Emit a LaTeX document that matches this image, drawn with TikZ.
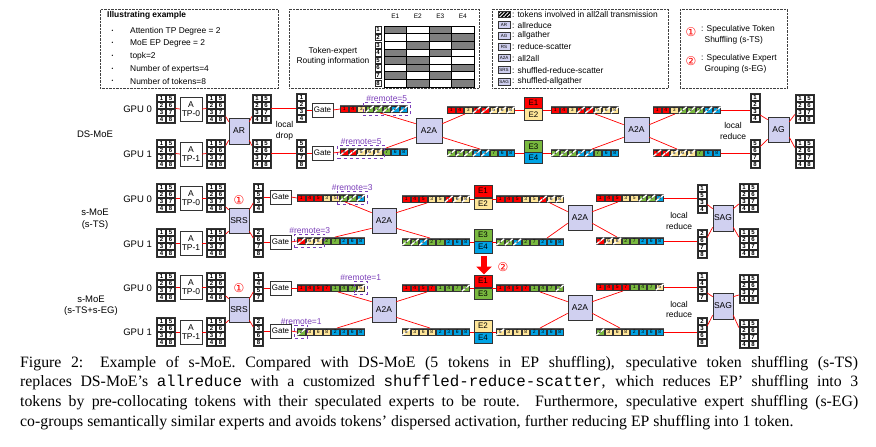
\documentclass[tikz,border=0pt]{standalone}
\usepackage{fontspec}
\setmainfont{Liberation Serif}
\setsansfont{Liberation Sans}
\setmonofont{Liberation Mono}
\newfontfamily\circfont{DejaVu Sans}
\renewcommand{\familydefault}{\sfdefault}
\usetikzlibrary{calc,fit,arrows.meta,patterns.meta}

\definecolor{colr}{HTML}{FF0000}
\definecolor{coly}{HTML}{FFE699}
\definecolor{colg}{HTML}{79B93F}
\definecolor{colb}{HTML}{00A3E4}
\definecolor{lav}{HTML}{D0D0F0}
\definecolor{purp}{HTML}{7A3DB8}
\definecolor{rc0}{HTML}{FFFFFF}
\definecolor{rc1}{HTML}{7F7F7F}

% token grid: name, centre x, centre y
\newcommand{\tokgrid}[3]{%
  \node[tgrid] (#1) at (#2,#3) {};
  \foreach \r in {1,...,4}{%
    \pgfmathtruncatemacro{\s}{\r+4}%
    \node[tcell] (#1-a\r) at (#2-4.5,#3-17.5+7*\r) {\r};
    \node[tcell] (#1-b\r) at (#2+4.5,#3-17.5+7*\r) {\s};
  }}
% token column: name, centre x, centre y, four numbers
\newcommand{\tokcol}[4]{%
  \node[tcolf] (#1) at (#2,#3) {};
  \foreach \v [count=\r] in {#4}
    \node[tcell] (#1-\r) at (#2,#3-17.5+7*\r) {\v};}
% token strip: name, left x, centre y, list number/colour/remote
\newcommand{\tokstrip}[4]{%
  \node[tstrip, anchor=west] (#1) at (#2,#3) {};
  \foreach \v/\c/\h [count=\i] in {#4}{%
    \node[scell, fill=col\c] (#1-\i) at (#2+8.5*\i-4.25,#3) {};
    \ifnum\h=1 \draw[white, line width=1.3pt] (#1-\i.south west) -- (#1-\i.north east);\fi
    \node[snum] (#1-n\i) at (#1-\i) {\v};
  }}

\begin{document}
\begin{tikzpicture}[x=1pt, y=-1pt,
    tgrid/.style={fill=black!60, draw=black!80, minimum width=19pt, minimum height=29pt, inner sep=0},
    tcolf/.style={fill=black!60, draw=black!80, minimum width=10pt, minimum height=29pt, inner sep=0},
    tcell/.style={fill=white, draw=black!85, line width=.4pt, minimum width=8pt, minimum height=6pt,
                  inner sep=0, font=\fontsize{6}{6}\selectfont\bfseries},
    tstrip/.style={fill=black!65, minimum width=68pt, minimum height=7.5pt, inner sep=0},
    scell/.style={draw=black!80, line width=.3pt, minimum width=7.5pt, minimum height=6pt, inner sep=0},
    snum/.style={inner sep=0, font=\fontsize{5}{5}\selectfont},
    lbl/.style={inner sep=0, align=center, font=\fontsize{9.5}{11.5}\selectfont},
    small/.style={inner sep=0, align=center, font=\fontsize{8.5}{10.5}\selectfont},
    tpbox/.style={draw=black!80, fill=white, minimum width=22pt, minimum height=24pt, inner sep=0,
                  align=center, font=\fontsize{8.5}{9.5}\selectfont},
    gatebox/.style={draw=black!80, fill=white, minimum width=21pt, minimum height=14pt, inner sep=0,
                    font=\fontsize{8}{9}\selectfont},
    collbox/.style={draw=black!80, fill=lav, line width=.7pt, inner sep=0, font=\fontsize{8.5}{9}\selectfont},
    ebox/.style={draw=black!80, minimum width=18pt, minimum height=11.5pt, inner sep=0,
                 font=\fontsize{8}{9}\selectfont},
    link/.style={draw=colr, line width=.7pt},
    remote/.style={draw=purp, dashed, line width=.8pt, inner xsep=2.5pt, inner ysep=3.5pt},
    remtxt/.style={anchor=south, text=purp, inner sep=.5pt, font=\fontsize{8.5}{9}\selectfont},
    legbox/.style={draw=black!75, densely dotted, anchor=north west, inner sep=0},
    legtxt/.style={anchor=west, inner sep=0, font=\fontsize{8.4}{9}\selectfont},
    icon/.style={draw=black!80, fill=lav, minimum width=12pt, minimum height=7pt, inner sep=0,
                 font=\fontsize{4.5}{5}\selectfont},
    circ/.style={text=colr, inner sep=0, font=\fontsize{12}{12}\circfont},
    rcell/.style={draw=black, line width=.6pt, minimum width=22.5pt, minimum height=7.6pt, inner sep=0}
  ]
  \useasboundingbox (0,0) rectangle (876,447);

  % legend boxes
  \node[legbox, minimum width=178pt, minimum height=79pt] (leg1) at (100,9) {};
  \node[legtxt, font=\fontsize{8.4}{9}\selectfont\bfseries] (lt0) at (107,15.5) {Illustrating example};
  \foreach \t [count=\i] in {Attention TP Degree = 2, MoE EP Degree = 2, topk=2, Number of experts=4, Number of tokens=8}{
    \node[legtxt, font=\fontsize{5}{5}\selectfont] (lb\i) at (111.5,18.5+12.6*\i) {\textbullet};
    \node[legtxt] (lt\i) at (130,18.5+12.6*\i) {\t};
  }

  \node[legbox, minimum width=190pt, minimum height=79pt] (leg2) at (289,9) {};
  \foreach \e [count=\c] in {E1,E2,E3,E4}
    \node[inner sep=0, font=\fontsize{6.5}{7}\selectfont] (eh\c) at (395.25+22.5*\c-22.5,16) {\e};
  \foreach \row [count=\r] in {{1,0,1,0},{0,0,1,1},{0,1,0,1},{1,0,1,0},{1,1,0,0},{0,1,0,1},{1,0,1,0},{0,1,0,1}}{
    \node[tcell, minimum width=6pt, minimum height=6.5pt] (rn\r) at (378,29.8+7.6*\r-7.6) {\r};
    \foreach \v [count=\c] in \row
      \node[rcell, fill=rc\v] (rt\r\c) at (395.25+22.5*\c-22.5,29.8+7.6*\r-7.6) {};
  }
  \node[small, font=\fontsize{8.4}{10}\selectfont] (rinfo) at (333,56.5) {Token-expert\\Routing information};

  \node[legbox, minimum width=176pt, minimum height=79pt] (leg3) at (492,9) {};
  \node[draw=black!80, minimum width=12pt, minimum height=6.5pt, inner sep=0, preaction={fill=black},
        pattern={Lines[angle=45,distance=2.6pt,line width=.9pt]}, pattern color=white] (ic1) at (504,14) {};
  \node[legtxt] (it1) at (512,14) {: tokens involved in all2all transmission};
  \foreach \a/\t/\y [count=\i from 2] in {AR/allreduce/25, AG/allgather/35.5, RS/reduce-scatter/46.5,
      A2A/all2all/58, SRS/shuffled-reduce-scatter/70, SAG/shuffled-allgather/81.5}{
    \node[icon] (ic\i) at (504,\y) {\a};
    \node[legtxt] (it\i) at (512,\y) {: \t};
  }

  \node[legbox, minimum width=107pt, minimum height=79pt] (leg4) at (680,9) {};
  \node[circ] (k1) at (691,32) {①};
  \node[legtxt, align=left, anchor=north west, font=\fontsize{8.4}{11}\selectfont] (kt1) at (701,25)
    {: Speculative Token\\\hspace*{3.5pt}Shuffling (s-TS)};
  \node[circ] (k2) at (691,61) {②};
  \node[legtxt, align=left, anchor=north west, font=\fontsize{8.4}{11}\selectfont] (kt2) at (701,54)
    {: Speculative Expert\\\hspace*{3.5pt}Grouping (s-EG)};

  % DS-MoE
  \node[lbl] (dsl) at (95,134) {DS-MoE};
  \node[lbl, anchor=east] (gpu10) at (152,109) {GPU 0};
  \node[lbl, anchor=east] (gpu11) at (152,154) {GPU 1};
  \tokgrid{ga0}{166}{108.5}
  \tokgrid{ga1}{166}{153.5}
  \node[tpbox] (tpa0) at (191,109) {A\\TP-0};
  \node[tpbox] (tpa1) at (191,154) {A\\TP-1};
  \tokgrid{gb0}{216}{108.5}
  \tokgrid{gb1}{216}{153.5}
  \node[collbox, minimum width=20pt, minimum height=26pt] (ar) at (239,131) {AR};
  \tokgrid{gc0}{261.5}{108.5}
  \tokgrid{gc1}{261.5}{153.5}
  \node[small] (drop) at (284.5,131) {local\\drop};
  \tokcol{ca0}{301.5}{108}{1,2,3,4}
  \tokcol{ca1}{301.5}{153.5}{5,6,7,8}
  \node[gatebox] (gt10) at (322.5,110) {Gate};
  \node[gatebox] (gt11) at (322.5,153) {Gate};
  \tokstrip{sg10}{340}{109}{1/r/0,4/r/0,3/y/0,1/g/1,2/g/1,4/g/1,2/b/1,3/b/1}
  \tokstrip{sg11}{340}{152}{5/r/1,7/r/1,5/y/1,6/y/1,8/y/1,7/g/0,6/b/0,8/b/0}
  \node[remote, fit=(sg10-4)(sg10-8)] (rm10) {};
  \node[remtxt] (rt10) at (rm10.north) {\#remote=5};
  \node[remote, fit=(sg11-1)(sg11-5)] (rm11) {};
  \node[remtxt] (rt11) at (rm11.north) {\#remote=5};
  \node[collbox, minimum width=26pt, minimum height=25pt] (a2a10) at (429,130.5) {A2A};
  \tokstrip{sa10}{447}{110}{1/r/0,4/r/0,3/y/0,5/r/1,7/r/1,5/y/1,6/y/1,8/y/1}
  \tokstrip{sa11}{447}{153}{1/g/1,2/g/1,4/g/1,2/b/1,3/b/1,7/g/0,6/b/0,8/b/0}
  \node[ebox, fill=colr] (e11) at (533.5,102.75) {E1};
  \node[ebox, fill=coly] (e12) at (533.5,114.25) {E2};
  \node[ebox, fill=colg] (e13) at (533.5,146.25) {E3};
  \node[ebox, fill=colb] (e14) at (533.5,157.75) {E4};
  \tokstrip{se10}{551}{110}{1/r/0,4/r/0,3/y/0,5/r/1,7/r/1,5/y/1,6/y/1,8/y/1}
  \tokstrip{se11}{551}{153}{1/g/1,2/g/1,4/g/1,2/b/1,3/b/1,7/g/0,6/b/0,8/b/0}
  \node[collbox, minimum width=25pt, minimum height=25pt] (a2a11) at (636.5,129.5) {A2A};
  \tokstrip{sr10}{653}{110}{1/r/0,4/r/0,3/y/0,1/g/1,2/g/1,4/g/1,2/b/1,3/b/1}
  \tokstrip{sr11}{653}{153}{5/r/1,7/r/1,5/y/1,6/y/1,8/y/1,7/g/0,6/b/0,8/b/0}
  \node[small] (red1) at (733,131) {local\\reduce};
  \tokcol{cb0}{755}{108}{1,2,3,4}
  \tokcol{cb1}{755}{153.5}{5,6,7,8}
  \node[collbox, minimum width=21pt, minimum height=25pt] (ag) at (778.5,129.5) {AG};
  \tokgrid{gd0}{804.5}{108.5}
  \tokgrid{gd1}{804.5}{153.5}

  \draw[link] (ga0.east) -- (tpa0.west);
  \draw[link] (ga1.east) -- (tpa1.west);
  \draw[link] (tpa0.east) -- (gb0.west);
  \draw[link] (tpa1.east) -- (gb1.west);
  \draw[link] ($(gb0.east)+(0,8)$) -- ($(ar.north west)+(0,4)$);
  \draw[link] ($(gb1.east)+(0,-8)$) -- ($(ar.south west)+(0,-4)$);
  \draw[link] ($(ar.north east)+(0,4)$) -- ($(gc0.west)+(0,8)$);
  \draw[link] ($(ar.south east)+(0,-4)$) -- ($(gc1.west)+(0,-8)$);
  \draw[link] (gc0.east) -- (gc0.east -| ca0.west);
  \draw[link] (gc1.east) -- (gc1.east -| ca1.west);
  \draw[link] (gt10.west -| ca0.east) -- (gt10.west);
  \draw[link] (gt11.west -| ca1.east) -- (gt11.west);
  \draw[link] (gt10.east) -- (sg10.west);
  \draw[link] (gt11.east) -- (sg11.west);
  \draw[link] ($(sg10.south west)+(40,0)$) -- ($(a2a10.north west)+(0,6)$);
  \draw[link] ($(sg11.north west)+(46,0)$) -- ($(a2a10.south west)+(0,-6)$);
  \draw[link] ($(a2a10.north east)+(0,6)$) -- ($(sa10.south west)+(18,0)$);
  \draw[link] ($(a2a10.south east)+(0,-6)$) -- ($(sa11.north west)+(33,0)$);
  \draw[link] (sa10.east) -- (sa10.east -| e12.west);
  \draw[link] (sa11.east) -- (sa11.east -| e13.west);
  \draw[link] (se10.west -| e12.east) -- (se10.west);
  \draw[link] (se11.west -| e13.east) -- (se11.west);
  \draw[link] ($(se10.south west)+(44,0)$) -- ($(a2a11.north west)+(0,8)$);
  \draw[link] ($(se11.north west)+(41,0)$) -- ($(a2a11.south west)+(0,-5)$);
  \draw[link] ($(a2a11.north east)+(0,8)$) -- ($(sr10.south west)+(22,0)$);
  \draw[link] ($(a2a11.south east)+(0,-5)$) -- ($(sr11.north west)+(24,0)$);
  \draw[link] (sr10.east) -- (sr10.east -| cb0.west);
  \draw[link] (sr11.east) -- (sr11.east -| cb1.west);
  \draw[link] ($(cb0.east)+(0,7)$) -- ($(ag.north west)+(0,3)$);
  \draw[link] ($(cb1.east)+(0,-7)$) -- ($(ag.south west)+(0,-3)$);
  \draw[link] ($(ag.north east)+(0,5)$) -- ($(gd0.west)+(0,6)$);
  \draw[link] ($(ag.south east)+(0,-5)$) -- ($(gd1.west)+(0,-6)$);

  % s-MoE (s-TS)
  \node[lbl] (tsl) at (95,219) {s-MoE\\(s-TS)};
  \node[lbl, anchor=east] (gpu20) at (152,199) {GPU 0};
  \node[lbl, anchor=east] (gpu21) at (152,244) {GPU 1};
  \tokgrid{ha0}{166}{198}
  \tokgrid{ha1}{166}{243}
  \node[tpbox] (tpb0) at (191,198) {A\\TP-0};
  \node[tpbox] (tpb1) at (191,243) {A\\TP-1};
  \tokgrid{hb0}{216}{198}
  \tokgrid{hb1}{216}{243}
  \node[collbox, minimum width=20pt, minimum height=25pt] (srs1) at (239,220.5) {SRS};
  \node[circ] (c21) at (239,200.5) {①};
  \tokcol{hc0}{258.5}{198}{1,5,3,4}
  \tokcol{hc1}{258.5}{243}{2,6,7,8}
  \node[gatebox] (gt20) at (280.5,197) {Gate};
  \node[gatebox] (gt21) at (280.5,242) {Gate};
  \tokstrip{sg20}{297}{198}{1/r/0,4/r/0,5/r/0,3/y/0,5/y/0,1/g/1,4/g/1,3/b/1}
  \tokstrip{sg21}{297}{241}{7/r/1,6/y/1,8/y/1,2/g/0,7/g/0,2/b/0,6/b/0,8/b/0}
  \node[remote, fit=(sg20-6)(sg20-8)] (rm20) {};
  \node[remtxt] (rt20) at (rm20.north) {\#remote=3};
  \node[remote, fit=(sg21-1)(sg21-3)] (rm21) {};
  \node[remtxt] (rt21) at (rm21.north) {\#remote=3};
  \node[collbox, minimum width=24pt, minimum height=25pt] (a2a20) at (384,220.5) {A2A};
  \tokstrip{sa20}{402}{199}{1/r/0,4/r/0,5/r/0,3/y/0,5/y/0,7/r/1,6/y/1,8/y/1}
  \tokstrip{sa21}{402}{242}{1/g/1,4/g/1,3/b/1,2/g/0,7/g/0,2/b/0,6/b/0,8/b/0}
  \node[ebox, fill=colr] (e21) at (483,191) {E1};
  \node[ebox, fill=coly] (e22) at (483,203.5) {E2};
  \node[ebox, fill=colg] (e23) at (483,235) {E3};
  \node[ebox, fill=colb] (e24) at (483,247) {E4};
  \tokstrip{se20}{496}{199}{1/r/0,4/r/0,5/r/0,3/y/0,5/y/0,7/r/1,6/y/1,8/y/1}
  \tokstrip{se21}{496}{242}{1/g/1,4/g/1,3/b/1,2/g/0,7/g/0,2/b/0,6/b/0,8/b/0}
  \node[collbox, minimum width=24pt, minimum height=25pt] (a2a21) at (580,217.5) {A2A};
  \tokstrip{sr20}{596}{198}{1/r/0,4/r/0,5/r/0,3/y/0,5/y/0,1/g/1,4/g/1,3/b/1}
  \tokstrip{sr21}{596}{241}{7/r/1,6/y/1,8/y/1,2/g/0,7/g/0,2/b/0,6/b/0,8/b/0}
  \node[small] (red2) at (679,221) {local\\reduce};
  \tokcol{hd0}{702}{198.5}{1,5,3,4}
  \tokcol{hd1}{702}{243.5}{2,6,7,8}
  \node[collbox, minimum width=20pt, minimum height=26pt] (sag1) at (723,218) {SAG};
  \tokgrid{he0}{748.5}{198}
  \tokgrid{he1}{748.5}{243}

  \draw[link] (ha0.east) -- (tpb0.west);
  \draw[link] (ha1.east) -- (tpb1.west);
  \draw[link] (tpb0.east) -- (hb0.west);
  \draw[link] (tpb1.east) -- (hb1.west);
  \draw[link] ($(hb0.east)+(0,9)$) -- ($(srs1.north west)+(0,2)$);
  \draw[link] ($(hb1.east)+(0,-9)$) -- ($(srs1.south west)+(0,-2)$);
  \draw[link] ($(srs1.north east)+(0,2)$) -- ($(hc0.west)+(0,5)$);
  \draw[link] ($(srs1.south east)+(0,-2)$) -- ($(hc1.west)+(0,-5)$);
  \draw[link] (gt20.west -| hc0.east) -- (gt20.west);
  \draw[link] (gt21.west -| hc1.east) -- (gt21.west);
  \draw[link] (gt20.east) -- (sg20.west);
  \draw[link] (gt21.east) -- (sg21.west);
  \draw[link] ($(sg20.south west)+(48,0)$) -- ($(a2a20.north west)+(0,5)$);
  \draw[link] ($(sg21.north west)+(38,0)$) -- ($(a2a20.south west)+(0,-5)$);
  \draw[link] ($(a2a20.north east)+(0,5)$) -- ($(sa20.south west)+(25,0)$);
  \draw[link] ($(a2a20.south east)+(0,-5)$) -- ($(sa21.north west)+(28,0)$);
  \draw[link] (sa20.east) -- (sa20.east -| e22.west);
  \draw[link] (sa21.east) -- (sa21.east -| e23.west);
  \draw[link] (se20.west -| e22.east) -- (se20.west);
  \draw[link] (se21.west -| e23.east) -- (se21.west);
  \draw[link] ($(se20.south west)+(54,0)$) -- ($(a2a21.north west)+(0,7)$);
  \draw[link] ($(se21.north west)+(51,0)$) -- ($(a2a21.south west)+(0,-7)$);
  \draw[link] ($(a2a21.north east)+(0,7)$) -- ($(sr20.south west)+(22,0)$);
  \draw[link] ($(a2a21.south east)+(0,-7)$) -- ($(sr21.north west)+(21,0)$);
  \draw[link] (sr20.east) -- (sr20.east -| hd0.west);
  \draw[link] (sr21.east) -- (sr21.east -| hd1.west);
  \draw[link] ($(hd0.east)+(0,6)$) -- ($(sag1.north west)+(0,4)$);
  \draw[link] ($(hd1.east)+(0,-6)$) -- ($(sag1.south west)+(0,-4)$);
  \draw[link] ($(sag1.north east)+(0,4)$) -- ($(he0.west)+(0,6)$);
  \draw[link] ($(sag1.south east)+(0,-4)$) -- ($(he1.west)+(0,-6)$);

  % s-MoE (s-TS+s-EG)
  \node[lbl] (egl) at (91,305.5) {s-MoE\\(s-TS+s-EG)};
  \node[lbl, anchor=east] (gpu30) at (152,288) {GPU 0};
  \node[lbl, anchor=east] (gpu31) at (152,332) {GPU 1};
  \tokgrid{ka0}{166}{287}
  \tokgrid{ka1}{166}{332}
  \node[tpbox] (tpc0) at (191,287) {A\\TP-0};
  \node[tpbox] (tpc1) at (191,332) {A\\TP-1};
  \tokgrid{kb0}{216}{287}
  \tokgrid{kb1}{216}{332}
  \node[collbox, minimum width=20pt, minimum height=25pt] (srs2) at (239,309.5) {SRS};
  \node[circ] (c31) at (239,288.5) {①};
  \tokcol{kc0}{258.5}{287}{1,4,5,7}
  \tokcol{kc1}{258.5}{332}{2,3,6,8}
  \node[gatebox] (gt30) at (280.5,288) {Gate};
  \node[gatebox] (gt31) at (280.5,331) {Gate};
  \tokstrip{sg30}{297}{288}{1/r/0,4/r/0,5/r/0,7/r/0,1/g/0,4/g/0,7/g/0,5/y/1}
  \tokstrip{sg31}{297}{332}{2/g/1,3/y/0,6/y/0,8/y/0,2/b/0,3/b/0,6/b/0,8/b/0}
  \node[remote, fit=(sg30-8)] (rm30) {};
  \node[remtxt] (rt30) at (rm30.north) {\#remote=1};
  \node[remote, fit=(sg31-1)] (rm31) {};
  \node[remtxt] (rt31) at (rm31.north) {\#remote=1};
  \node[collbox, minimum width=24pt, minimum height=25pt] (a2a30) at (384,309.5) {A2A};
  \tokstrip{sa30}{402}{288}{1/r/0,4/r/0,5/r/0,7/r/0,1/g/0,4/g/0,7/g/0,2/g/1}
  \tokstrip{sa31}{402}{332}{5/y/1,3/y/0,6/y/0,8/y/0,2/b/0,3/b/0,6/b/0,8/b/0}
  \coordinate (arrs) at (484,256);
  \coordinate (arre) at (484,274.5);
  \draw[colr, line width=6pt, -{Triangle[width=15pt,length=8pt]}] (arrs) -- (arre);
  \node[circ] (c32) at (503,267) {②};
  \node[ebox, fill=colr] (e31) at (483,281) {E1};
  \node[ebox, fill=colg] (e33) at (483,293.5) {E3};
  \node[ebox, fill=coly] (e32) at (483,326) {E2};
  \node[ebox, fill=colb] (e34) at (483,337.5) {E4};
  \tokstrip{se30}{496}{288}{1/r/0,4/r/0,5/r/0,7/r/0,1/g/0,4/g/0,7/g/0,2/g/1}
  \tokstrip{se31}{496}{332}{5/y/1,3/y/0,6/y/0,8/y/0,2/b/0,3/b/0,6/b/0,8/b/0}
  \node[collbox, minimum width=24pt, minimum height=25pt] (a2a31) at (580,307.5) {A2A};
  \tokstrip{sr30}{596}{287}{1/r/0,4/r/0,5/r/0,7/r/0,1/g/0,4/g/0,7/g/0,5/y/1}
  \tokstrip{sr31}{596}{332}{2/g/1,3/y/0,6/y/0,8/y/0,2/b/0,3/b/0,6/b/0,8/b/0}
  \node[small] (red3) at (679,309.5) {local\\reduce};
  \tokcol{kd0}{702}{287}{1,4,5,7}
  \tokcol{kd1}{702}{332}{2,3,6,8}
  \node[collbox, minimum width=20pt, minimum height=26pt] (sag2) at (723,306) {SAG};
  \tokgrid{ke0}{748.5}{289}
  \tokgrid{ke1}{748.5}{333.5}

  \draw[link] (ka0.east) -- (tpc0.west);
  \draw[link] (ka1.east) -- (tpc1.west);
  \draw[link] (tpc0.east) -- (kb0.west);
  \draw[link] (tpc1.east) -- (kb1.west);
  \draw[link] ($(kb0.east)+(0,9)$) -- ($(srs2.north west)+(0,2)$);
  \draw[link] ($(kb1.east)+(0,-9)$) -- ($(srs2.south west)+(0,-2)$);
  \draw[link] ($(srs2.north east)+(0,2)$) -- ($(kc0.west)+(0,5)$);
  \draw[link] ($(srs2.south east)+(0,-2)$) -- ($(kc1.west)+(0,-5)$);
  \draw[link] (gt30.west -| kc0.east) -- (gt30.west);
  \draw[link] (gt31.west -| kc1.east) -- (gt31.west);
  \draw[link] (gt30.east) -- (sg30.west);
  \draw[link] (gt31.east) -- (sg31.west);
  \draw[link] ($(sg30.south west)+(41,0)$) -- ($(a2a30.north west)+(0,5)$);
  \draw[link] ($(sg31.north west)+(40,0)$) -- ($(a2a30.south west)+(0,-5)$);
  \draw[link] ($(a2a30.north east)+(0,5)$) -- ($(sa30.south west)+(25,0)$);
  \draw[link] ($(a2a30.south east)+(0,-5)$) -- ($(sa31.north west)+(28,0)$);
  \draw[link] (sa30.east) -- (sa30.east -| e33.west);
  \draw[link] (sa31.east) -- (sa31.east -| e32.west);
  \draw[link] (se30.west -| e33.east) -- (se30.west);
  \draw[link] (se31.west -| e32.east) -- (se31.west);
  \draw[link] ($(se30.south west)+(44,0)$) -- ($(a2a31.north west)+(0,7)$);
  \draw[link] ($(se31.north west)+(44,0)$) -- ($(a2a31.south west)+(0,-7)$);
  \draw[link] ($(a2a31.north east)+(0,7)$) -- ($(sr30.south west)+(27,0)$);
  \draw[link] ($(a2a31.south east)+(0,-7)$) -- ($(sr31.north west)+(24,0)$);
  \draw[link] (sr30.east) -- (sr30.east -| kd0.west);
  \draw[link] (sr31.east) -- (sr31.east -| kd1.west);
  \draw[link] ($(kd0.east)+(0,6)$) -- ($(sag2.north west)+(0,4)$);
  \draw[link] ($(kd1.east)+(0,-6)$) -- ($(sag2.south west)+(0,-4)$);
  \draw[link] ($(sag2.north east)+(0,4)$) -- ($(ke0.west)+(0,6)$);
  \draw[link] ($(sag2.south east)+(0,-4)$) -- ($(ke1.west)+(0,-6)$);

  % caption
  \node[anchor=north west, text width=838pt, align=justify, inner sep=0,
        font=\fontsize{15.8}{19.6}\selectfont\rmfamily] (cap) at (20,356)
    {Figure 2: Example of s-MoE. Compared with DS-MoE (5 tokens in EP shuffling), speculative token shuffling (s-TS)\linebreak
     replaces DS-MoE's \texttt{allreduce} with a customized \texttt{shuffled-reduce-scatter}, which reduces EP' shuffling into 3\linebreak
     tokens by pre-collocating tokens with their speculated experts to be route. Furthermore, speculative expert shuffling (s-EG)\linebreak
     co-groups semantically similar experts and avoids tokens' dispersed activation, further reducing EP shuffling into 1 token.};
\end{tikzpicture}
\end{document}
